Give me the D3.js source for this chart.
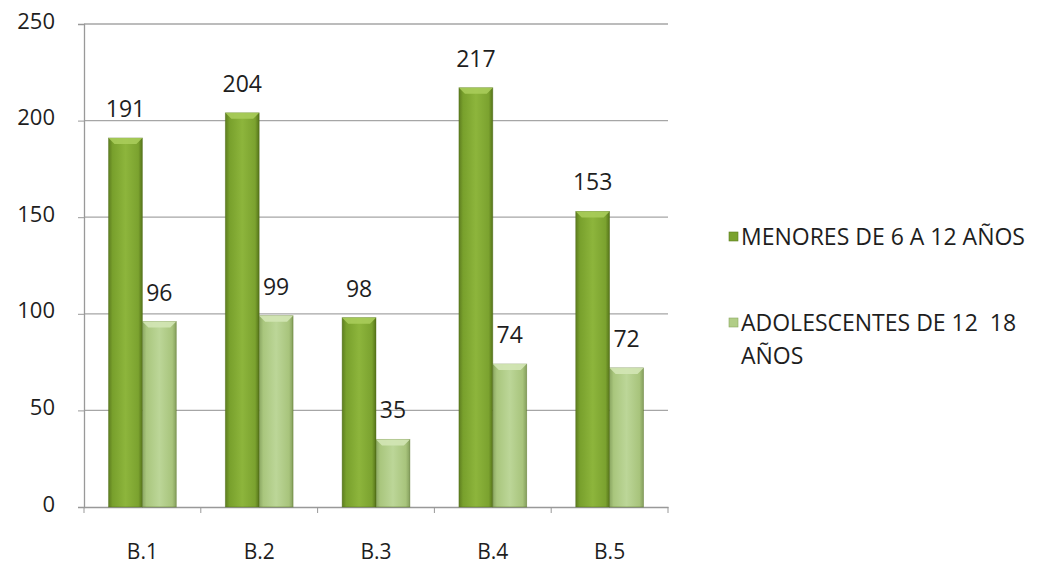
<!DOCTYPE html>
<html><head><meta charset="utf-8">
<script src="https://cdn.jsdelivr.net/npm/d3@7"></script>
<style>body{margin:0;background:#fff}svg{display:block}</style>
</head><body><svg id="c" width="1057" height="569"></svg>
<script>
const categories = ["B.1","B.2","B.3","B.4","B.5"];
const seriesNames = ["MENORES DE 6 A 12 AÑOS","ADOLESCENTES DE 12  18 AÑOS"];
const menores = [191,204,98,217,153];
const adolescentes = [96,99,35,74,72];
const yTicks = [0,50,100,150,200,250];

const svg = d3.select("#c");
const font = "'Open Sans', sans-serif";
const txtCol = "#1e1e1e";
const m = {left:84, right:668, top:24, bottom:507};
const x = d3.scaleBand().domain(categories).range([m.left,m.right]).paddingInner(0.42).paddingOuter(0.21);
const x1 = d3.scaleBand().domain([0,1]).range([0,x.bandwidth()]);
const y = d3.scaleLinear().domain([0,250]).range([m.bottom,m.top]);

const defs = svg.append("defs");
function grad(id, stops){
  const g = defs.append("linearGradient").attr("id",id).attr("x1","0").attr("x2","1").attr("y1","0").attr("y2","0");
  stops.forEach(s=>g.append("stop").attr("offset",s[0]).attr("stop-color",s[1]));
}
grad("g0",[[0,"#5d7d1f"],[0.12,"#78a02c"],[0.5,"#8db53c"],[0.88,"#7ba22f"],[1,"#557319"]]);
grad("g1",[[0,"#8ba762"],[0.12,"#a9c67d"],[0.5,"#bcd698"],[0.88,"#a8c47c"],[1,"#859f5d"]]);
const topCol = ["#a9cc5a","#d3e6b5"];
const legCol = ["#7aa22e","#b1cd87"];

// grid
svg.append("g").selectAll("line").data(yTicks.filter(d=>d>0)).join("line")
  .attr("x1",m.left).attr("x2",m.right).attr("y1",d=>y(d)).attr("y2",d=>y(d))
  .attr("stroke","#a6a6a6").attr("stroke-width",1.3);

// y axis
const ya = d3.axisLeft(y).tickValues(yTicks).tickSize(6).tickPadding(23);
const yg = svg.append("g").attr("transform",`translate(${m.left},0)`).call(ya);
yg.select(".domain").attr("stroke","#999").attr("stroke-width",1.3);
yg.selectAll(".tick line").attr("stroke","#999");
yg.selectAll("text").attr("font-family",font).attr("font-size",22).attr("fill",txtCol).attr("y",-3);

// x axis
const xa = d3.axisBottom(x).tickSize(0).tickPadding(52);
const xg = svg.append("g").attr("transform",`translate(0,${m.bottom})`).call(xa);
xg.select(".domain").attr("stroke","#999").attr("stroke-width",1.3);
xg.selectAll("text").attr("font-family",font).attr("font-size",21).attr("fill",txtCol).attr("dy","0");
const step = x.step();
svg.append("g").selectAll("line").data(d3.range(categories.length+1)).join("line")
  .attr("x1",i=>m.left+i*step).attr("x2",i=>m.left+i*step)
  .attr("y1",m.bottom).attr("y2",m.bottom+6).attr("stroke","#999");

// bars
const series = [menores, adolescentes];
series.forEach((vals,si)=>{
  const g = svg.append("g");
  categories.forEach((c,i)=>{
    const bx = x(c)+x1(si), bw = x1.bandwidth(), by = y(vals[i]);
    g.append("rect").attr("x",bx).attr("y",by).attr("width",bw).attr("height",m.bottom-by)
      .attr("fill",`url(#g${si})`).attr("stroke","#4e6b17").attr("stroke-opacity",0.5).attr("stroke-width",0.8);
    const h = 6;
    g.append("path").attr("d",`M${bx},${by} L${bx+bw},${by} L${bx+bw-h},${by+h} L${bx+h},${by+h} Z`)
      .attr("fill",topCol[si]).attr("opacity",0.9);
    svg.append("text").attr("x",bx+bw/2).attr("y",by-21).attr("text-anchor","middle")
      .attr("font-family",font).attr("font-size",23).attr("fill",txtCol).text(vals[i]);
  });
});

// legend
const lg = svg.append("g");
const legY = [237, 323];
lg.append("rect").attr("x",729).attr("y",legY[0]-5).attr("width",9).attr("height",9).attr("fill",legCol[0]).attr("stroke","#5d7d1f").attr("stroke-width",0.6);
lg.append("text").attr("x",741).attr("y",legY[0]).attr("dy","0.36em").attr("font-family",font).attr("font-size",23).attr("fill",txtCol).text(seriesNames[0]);
lg.append("rect").attr("x",729).attr("y",legY[1]-5).attr("width",9).attr("height",9).attr("fill",legCol[1]).attr("stroke","#8ba762").attr("stroke-width",0.6);
const t2 = lg.append("text").attr("font-family",font).attr("font-size",23).attr("fill",txtCol).style("white-space","pre");
t2.append("tspan").attr("x",741).attr("y",legY[1]).attr("dy","0.36em").text("ADOLESCENTES DE 12  18");
t2.append("tspan").attr("x",741).attr("y",legY[1]+33).attr("dy","0.36em").text("AÑOS");
</script></body></html>
